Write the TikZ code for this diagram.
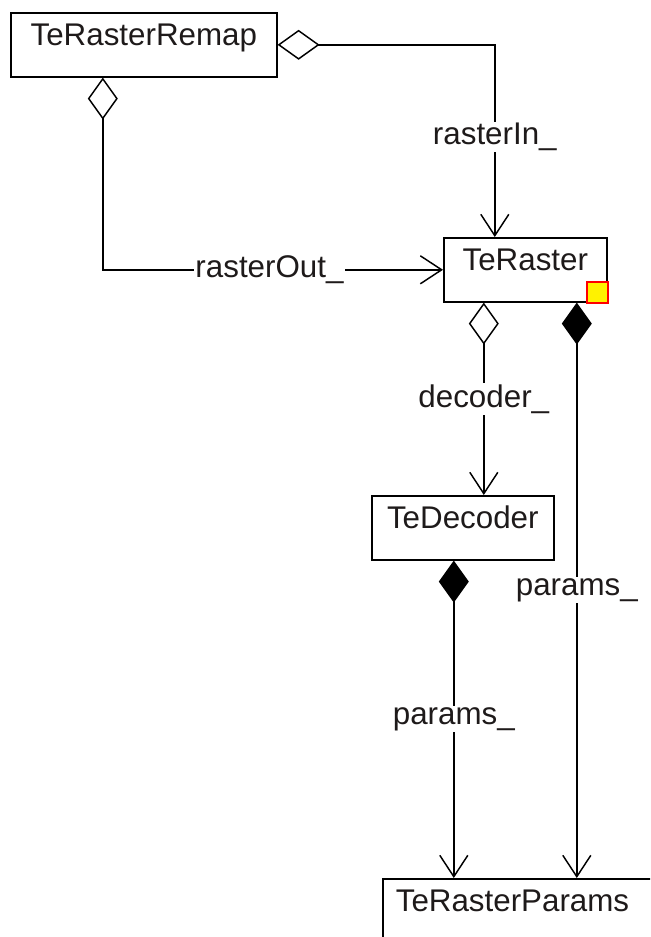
\documentclass[tikz,border=0pt]{standalone}
\usepackage{fontspec}
\setmainfont{Liberation Sans}
\usetikzlibrary{arrows.meta,calc}
\definecolor{ink}{RGB}{30,26,26}
\begin{document}
\begin{tikzpicture}[x=0.75pt,y=-0.75pt,
  txt/.style={font=\fontsize{23.5}{28}\selectfont, text=ink},
  classbox/.style={txt, draw, line width=1.2pt, inner xsep=0pt, inner ysep=0pt,
    text height=24.75pt, text depth=23.25pt, anchor=north west},
  lbl/.style={txt, fill=white, inner sep=1pt},
  link/.style={line width=1.1pt},
  agg/.style={link, {Diamond[open,fill=white,length=31.5pt,width=22.5pt]}-{Straight Barb[length=16pt,width=21pt,line width=1.1pt]}},
  comp/.style={link, {Diamond[fill=black,length=31.5pt,width=22.5pt]}-{Straight Barb[length=16pt,width=21pt,line width=1.1pt]}}]
\useasboundingbox (0,0) rectangle (650,937);
\clip (0,0) rectangle (650,937);

% classes
\node[classbox, minimum width=266*0.75pt] (remap) at (10,12) {TeRasterRemap};
\node[classbox, minimum width=163*0.75pt] (raster) at (443,237) {TeRaster};
\node[classbox, minimum width=182*0.75pt] (decoder) at (371,495) {TeDecoder};
\node[classbox, text width=290*0.75pt, align=left, inner xsep=9.75pt] (params) at (382,878) {TeRasterParams};

% marker in the corner of TeRaster
\draw[red, fill=yellow, line width=1.3pt] ($(raster.south east)+(0.5,0.5)$) rectangle ++(-21,-21);

% associations
\coordinate (inTop) at ($(raster.north)+(-30.5,0)$);
\draw[agg] (remap.east) -| (inTop)
  node[lbl, pos=0.74] (lin) {rasterIn\_};

\coordinate (outStart) at ($(remap.south)+(-41,0)$);
\draw[agg] (outStart) |- (raster.west)
  node[lbl, pos=0.745] (lout) {rasterOut\_};

\coordinate (decStart) at ($(raster.south)+(-41.5,0)$);
\draw[agg] (decStart) -- (decStart |- decoder.north)
  node[lbl, midway] (ldec) {decoder\_};

\coordinate (parStartA) at ($(raster.south)+(51.5,0)$);
\draw[comp] (parStartA) -- (parStartA |- params.north)
  node[lbl, midway] (lparA) {params\_};

\coordinate (parStartB) at ($(decoder.south)+(-9,0)$);
\draw[comp] (parStartB) -- (parStartB |- params.north)
  node[lbl, midway] (lparB) {params\_};
\end{tikzpicture}
\end{document}
